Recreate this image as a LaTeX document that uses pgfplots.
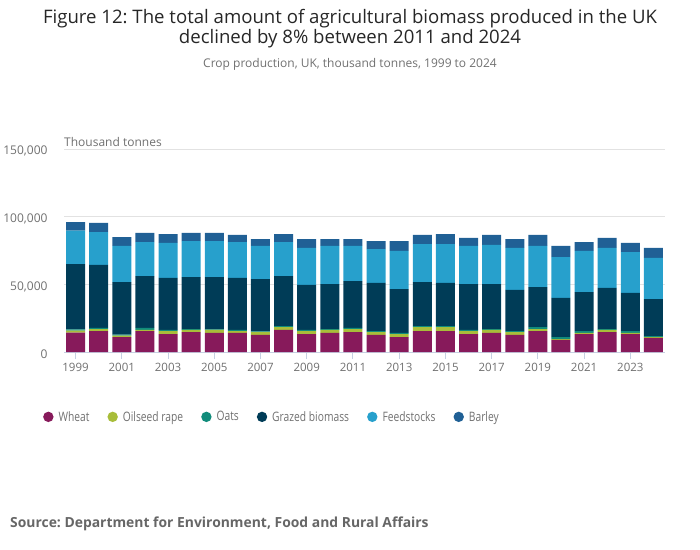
\documentclass[border=0pt]{standalone}
\usepackage{pgfplots}
\usepackage{pgfplotstable}
\pgfplotsset{compat=1.18}
\usepackage{fontspec}
\setmainfont{Open Sans}
\newfontfamily\legfont{Open Sans}[FakeStretch=0.79]
\frenchspacing
\definecolor{cWheat}{HTML}{871A5B}
\definecolor{cOil}{HTML}{A8BD3A}
\definecolor{cOats}{HTML}{118C7B}
\definecolor{cGraz}{HTML}{003C57}
\definecolor{cFeed}{HTML}{27A0CC}
\definecolor{cBar}{HTML}{206095}
\definecolor{tgrey}{HTML}{707070}
\definecolor{gridc}{HTML}{E2E2E2}
\definecolor{axc}{HTML}{C5D0E2}
\pgfplotstableread{
year W Oil Oats G F B
1999 14.3 1.5 1.0 48.3 24.7 6.4
2000 15.5 1.5 0.8 46.6 24.4 6.7
2001 11.1 1.0 0.7 39.0 26.7 6.6
2002 15.5 0.8 1.5 38.4 25.2 6.7
2003 13.3 2.2 0.8 38.5 25.9 6.6
2004 14.8 1.5 0.7 38.5 26.6 6.0
2005 14.1 2.2 0.5 38.7 26.6 6.0
2006 14.1 1.4 0.8 38.5 26.6 5.2
2007 12.6 2.2 0.5 38.7 24.5 5.1
2008 16.3 2.2 0.7 37.0 25.2 5.9
2009 13.3 2.2 0.8 33.3 27.4 6.6
2010 14.1 2.2 0.7 33.3 28.2 5.1
2011 14.8 2.2 0.8 34.7 26.0 5.1
2012 12.6 2.2 0.7 35.6 25.1 5.9
2013 11.1 2.2 0.8 32.5 28.2 7.3
2014 15.5 3.0 0.7 32.6 28.1 6.7
2015 15.5 3.0 0.7 31.9 28.8 7.4
2016 13.3 2.2 0.8 34.0 28.2 5.9
2017 14.1 2.2 0.7 33.3 28.9 7.4
2018 12.6 2.2 0.7 30.4 31.1 6.6
2019 15.5 1.5 1.5 29.6 30.4 8.1
2020 8.9 0.7 1.5 28.9 30.3 8.2
2021 13.3 0.8 1.4 28.9 30.4 6.6
2022 14.8 1.5 0.7 30.4 29.6 7.4
2023 13.3 0.8 1.4 28.2 30.3 6.7
2024 10.4 0.7 0.7 27.4 30.4 7.4
}\datatable
\begin{document}
\begin{tikzpicture}[x=1pt,y=1pt]
\path[use as bounding box] (0,0) rectangle (700,549);
\node[font=\fontsize{18.6}{20.5}\selectfont, text=black!85, align=center] at (350,520.5) {Figure 12: The total amount of agricultural biomass produced in the UK\\declined by 8\% between 2011 and 2024};
\node[font=\fontsize{12}{14}\selectfont, text=tgrey] at (350,485) {Crop production, UK, thousand tonnes, 1999 to 2024};
\node[font=\fontsize{12}{14}\selectfont, text=tgrey, anchor=base west, inner sep=0pt] at (64,402) {Thousand tonnes};
\node[font=\bfseries\fontsize{13.9}{16}\selectfont, text=black!60, anchor=base west, inner sep=0pt] at (10,22) {Source: Department for Environment, Food and Rural Affairs};
\begin{axis}[
  at={(64pt,197pt)}, anchor=south west,
  scale only axis, width=601pt, height=202.7pt,
  ybar stacked, bar width=19pt,
  xmin=1998.5, xmax=2024.5, ymin=0, ymax=150,
  axis y line*=left,
  y axis line style={draw=none},
  ytick style={draw=none},
  axis x line*=bottom,
  x axis line style={draw=axc, line width=1pt, -},
  xtick={1999,2001,...,2023},
  xticklabels={1999,2001,2003,2005,2007,2009,2011,2013,2015,2017,2019,2021,2023},
  x tick style={draw=axc, line width=1pt},
  major tick length=7pt,
  tick align=outside,
  xticklabel style={font=\fontsize{11.5}{13}\selectfont, text=tgrey, yshift=-1pt},
  ytick={0,50,100,150},
  yticklabels={0,{50,000},{100,000},{150,000}},
  yticklabel style={font=\fontsize{12}{14}\selectfont, text=tgrey, xshift=-6pt, yshift=-2pt},
  ymajorgrids, grid style={draw=gridc, line width=1pt},
  /pgf/number format/assume math mode=true,
  clip=false,
  legend columns=6,
  legend style={draw=none, fill=none, at={(-0.04,-0.32)}, anchor=west,
    font=\legfont\fontsize{13}{15}\selectfont, text=tgrey,
    /tikz/every odd column/.append style={column sep=3pt},
    /tikz/every even column/.append style={column sep=16pt}},
  legend image code/.code={\fill (5pt,0pt) circle (5.2pt);},
]
\addplot[fill=cWheat, draw=none] table[x=year,y=W]{\datatable};
\addlegendentry{Wheat}
\addplot[fill=cOil, draw=none] table[x=year,y=Oil]{\datatable};
\addlegendentry{Oilseed rape}
\addplot[fill=cOats, draw=none] table[x=year,y=Oats]{\datatable};
\addlegendentry{Oats}
\addplot[fill=cGraz, draw=none] table[x=year,y=G]{\datatable};
\addlegendentry{Grazed biomass}
\addplot[fill=cFeed, draw=none] table[x=year,y=F]{\datatable};
\addlegendentry{Feedstocks}
\addplot[fill=cBar, draw=none] table[x=year,y=B]{\datatable};
\addlegendentry{Barley}
\end{axis}
\end{tikzpicture}
\end{document}
